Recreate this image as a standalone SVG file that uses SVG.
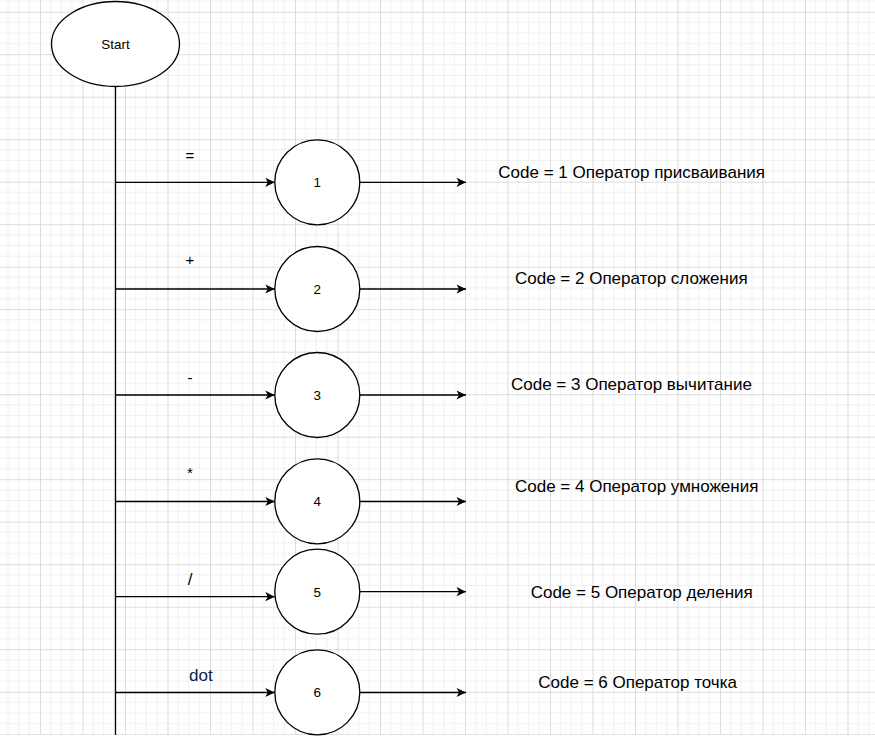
<svg xmlns="http://www.w3.org/2000/svg" width="875" height="738" viewBox="0 0 875 738">
<defs>
<pattern id="grid" patternUnits="userSpaceOnUse" x="40" y="11.7" width="42.5" height="42.5">
<path d="M10.625 0V42.5M21.25 0V42.5M31.875 0V42.5M0 10.625H42.5M0 21.25H42.5M0 31.875H42.5" stroke="#f0f0f0" stroke-width="1" fill="none"/>
<path d="M0.5 0V42.5M0 0.5H42.5" stroke="#dcdcdc" stroke-width="1" fill="none"/>
</pattern>
<marker id="arr" markerUnits="userSpaceOnUse" markerWidth="12" markerHeight="12" viewBox="-10 -6 12 12" refX="0" refY="0" orient="auto">
<path d="M0 0L-9.5 -4.6L-7 0L-9.5 4.6Z" fill="#000"/>
</marker>
<style>
.n{fill:#fff;stroke:#000;stroke-width:1.3}
.c{stroke:#000;stroke-width:1.3;fill:none}
.a{marker-end:url(#arr)}
text{font-family:"Liberation Sans",Arial,sans-serif;fill:#000}
.t{font-size:13.4px;text-anchor:middle}
.l{font-size:15px;text-anchor:middle}
.d{font-size:17px}
</style>
</defs>
<rect width="875" height="738" fill="#fff"/>
<rect width="875" height="735" fill="url(#grid)"/>
<g id="connectors">
<path class="c" d="M115.5 86.5V735"/>
<path class="c a" d="M115.5 182.3H274.8"/>
<path class="c a" d="M115.5 289H274.8"/>
<path class="c a" d="M115.5 395H274.8"/>
<path class="c a" d="M115.5 501.5H274.8"/>
<path class="c a" d="M115.5 596.7H274.8"/>
<path class="c a" d="M115.5 692.5H274.8"/>
<path class="c a" d="M359.8 182.3H466"/>
<path class="c a" d="M359.8 289H466"/>
<path class="c a" d="M359.8 395H466"/>
<path class="c a" d="M359.8 501.5H466"/>
<path class="c a" d="M359.8 591.7H466"/>
<path class="c a" d="M359.8 692.5H466"/>
<text class="l" x="190" y="161">=</text>
<text class="l" x="190" y="265">+</text>
<text class="l" x="190" y="383">-</text>
<text class="l" x="190" y="477.5">*</text>
<text class="d" x="190" y="585" text-anchor="middle">/</text>
<text class="d" x="189" y="681" fill="#001c4e" style="fill:#0b1d4f">dot</text>
</g>
<g id="start">
<ellipse class="n" cx="115.5" cy="44" rx="64" ry="42.5"/>
<text class="t" x="115.5" y="48.5">Start</text>
</g>
<g id="n1"><circle class="n" cx="317.3" cy="182.3" r="42.5"/><text class="t" x="317.3" y="187.1">1</text></g>
<g id="n2"><circle class="n" cx="317.3" cy="289" r="42.5"/><text class="t" x="317.3" y="293.8">2</text></g>
<g id="n3"><circle class="n" cx="317.3" cy="395" r="42.5"/><text class="t" x="317.3" y="399.8">3</text></g>
<g id="n4"><circle class="n" cx="317.3" cy="501.3" r="42.5"/><text class="t" x="317.3" y="506.1">4</text></g>
<g id="n5"><circle class="n" cx="317.3" cy="591.7" r="42.5"/><text class="t" x="317.3" y="596.5">5</text></g>
<g id="n6"><circle class="n" cx="317.3" cy="692.3" r="42.5"/><text class="t" x="317.3" y="697.1">6</text></g>
<g id="code1"><text class="d" x="498.3" y="178">Code = 1 Оператор присваивания</text></g>
<g id="code2"><text class="d" x="515" y="284.3">Code = 2 Оператор сложения</text></g>
<g id="code3"><text class="d" x="511" y="390">Code = 3 Оператор вычитание</text></g>
<g id="code4"><text class="d" x="515" y="491.7">Code = 4 Оператор умножения</text></g>
<g id="code5"><text class="d" x="530.7" y="597.7">Code = 5 Оператор деления</text></g>
<g id="code6"><text class="d" x="538.3" y="687.7">Code = 6 Оператор точка</text></g>
</svg>
